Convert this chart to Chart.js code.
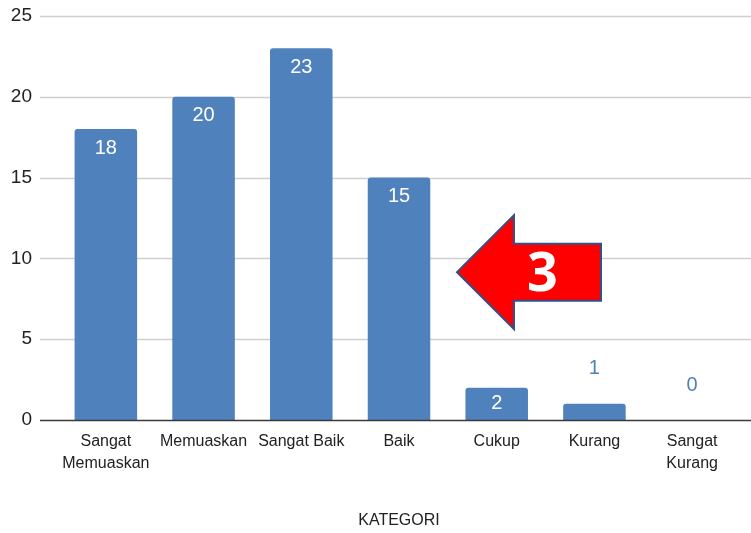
<!DOCTYPE html>
<html>
<head>
<meta charset="utf-8">
<script src="https://cdn.jsdelivr.net/npm/chart.js@4"></script>
<style>
  html, body { margin: 0; padding: 0; background: #fff; }
  canvas { display: block; }
</style>
</head>
<body>
<canvas id="chart" width="751" height="533"></canvas>
<script>
// data
const categories = [
    ['Sangat', 'Memuaskan'],
    'Memuaskan',
    'Sangat Baik',
    'Baik',
    'Cukup',
    'Kurang',
    ['Sangat', 'Kurang']
];
const counts = [18, 20, 23, 15, 2, 1, 0];
const yTicks = [0, 5, 10, 15, 20, 25];
const arrowLabel = '3';

const FONT = '"Liberation Sans", Arial, sans-serif';
const BAR_BLUE = '#4f81bd';

// horizontal grid lines run a bit past the plot area on both sides
const gridPlugin = {
    id: 'fullGrid',
    beforeDatasetsDraw(chart) {
        const { ctx, chartArea, scales } = chart;
        ctx.save();
        ctx.strokeStyle = '#cfcfcf';
        ctx.lineWidth = 1.5;
        yTicks.forEach(v => {
            if (v === 0) return;
            const y = Math.round(scales.y.getPixelForValue(v)) + 0.5;
            ctx.beginPath();
            ctx.moveTo(chartArea.left - 17, y);
            ctx.lineTo(chart.width, y);
            ctx.stroke();
        });
        ctx.restore();
    },
    afterDatasetsDraw(chart) {
        const { ctx, chartArea, scales } = chart;
        const y = Math.round(scales.y.getPixelForValue(0)) + 0.5;
        ctx.save();
        ctx.strokeStyle = '#3a3a3a';
        ctx.lineWidth = 1.5;
        ctx.beginPath();
        ctx.moveTo(chartArea.left - 17, y);
        ctx.lineTo(chart.width, y);
        ctx.stroke();
        ctx.restore();
    }
};

// value labels: inside the bar when it is tall enough, otherwise above in blue
const valueLabels = {
    id: 'valueLabels',
    afterDatasetsDraw(chart) {
        const { ctx } = chart;
        const meta = chart.getDatasetMeta(0);
        ctx.save();
        ctx.font = '20px ' + FONT;
        ctx.textAlign = 'center';
        ctx.textBaseline = 'middle';
        meta.data.forEach((bar, i) => {
            const h = bar.base - bar.y;
            let ty, color;
            if (h >= 38) { ty = bar.y + 19; color = '#ffffff'; }
            else if (h >= 28) { ty = (bar.y + bar.base) / 2; color = '#ffffff'; }
            else { ty = bar.y - 35; color = BAR_BLUE; }
            ctx.fillStyle = color;
            ctx.fillText(String(counts[i]), bar.x, ty);
        });
        ctx.restore();
    }
};

// red callout arrow pointing left, anchored next to the "Baik" bar
const arrowPlugin = {
    id: 'arrow',
    afterDraw(chart) {
        const { ctx, scales } = chart;
        const tipX = scales.x.getPixelForValue(3) + 58;
        const midY = scales.y.getPixelForValue(9.15);
        const headX = tipX + 57;
        const tailX = tipX + 144;
        const headH = 57, shaftH = 28.5;
        ctx.save();
        ctx.beginPath();
        ctx.moveTo(tipX, midY);
        ctx.lineTo(headX, midY - headH);
        ctx.lineTo(headX, midY - shaftH);
        ctx.lineTo(tailX, midY - shaftH);
        ctx.lineTo(tailX, midY + shaftH);
        ctx.lineTo(headX, midY + shaftH);
        ctx.lineTo(headX, midY + headH);
        ctx.closePath();
        ctx.fillStyle = '#ff0000';
        ctx.fill();
        ctx.strokeStyle = '#2f528f';
        ctx.lineWidth = 2;
        ctx.lineJoin = 'miter';
        ctx.stroke();
        ctx.fillStyle = '#ffffff';
        ctx.font = 'bold 54px "Open Sans", "Liberation Sans", Arial, sans-serif';
        ctx.textAlign = 'center';
        ctx.textBaseline = 'middle';
        ctx.fillText(arrowLabel, (headX + tailX) / 2 - 15, midY + 3);
        ctx.restore();
    }
};

new Chart(document.getElementById('chart').getContext('2d'), {
    type: 'bar',
    data: {
        labels: categories,
        datasets: [{
            data: counts,
            backgroundColor: BAR_BLUE,
            borderRadius: { topLeft: 3, topRight: 3 },
            borderSkipped: 'bottom',
            barPercentage: 0.8,
            categoryPercentage: 0.8
        }]
    },
    options: {
        responsive: false,
        animation: false,
        layout: { padding: { top: 16, right: 10, left: 0, bottom: 0 } },
        plugins: {
            legend: { display: false },
            tooltip: { enabled: false }
        },
        scales: {
            x: {
                grid: { display: false, drawTicks: false },
                border: { display: false },
                ticks: {
                    color: '#222',
                    font: { family: FONT, size: 16, lineHeight: 1.35 },
                    padding: 11,
                    maxRotation: 0,
                    autoSkip: false
                },
                title: {
                    display: true,
                    text: 'KATEGORI',
                    color: '#222',
                    font: { family: FONT, size: 16 },
                    padding: { top: 0, bottom: 3 }
                },
                afterFit(scale) { scale.height = 113; }
            },
            y: {
                min: 0,
                max: 25,
                // tick marks hidden; their length only pushes the labels left
                grid: { display: false, drawTicks: true, tickLength: 22 },
                border: { display: false },
                ticks: {
                    stepSize: 5,
                    color: '#222',
                    font: { family: FONT, size: 19 },
                    padding: 3
                },
                afterFit(scale) { scale.width = 57; }
            }
        }
    },
    plugins: [gridPlugin, valueLabels, arrowPlugin]
});
</script>
</body>
</html>
